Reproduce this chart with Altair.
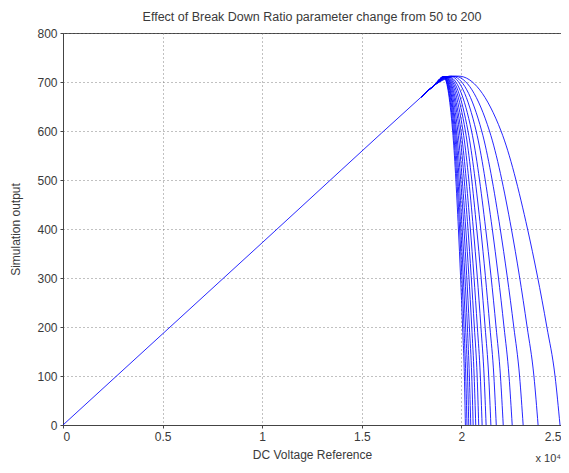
import altair as alt
import pandas as pd

# Break down ratio values (one curve each)
ratio = [50, 60, 70, 80, 90, 100, 110, 120, 130, 140, 150, 160, 170, 180, 190, 200]

# shared linear rise (x in units of 1e4)
rise_x = [0.0, 1.0, 1.80, 1.86]
rise_y = [0, 372, 670, 692]

# peak of each curve
peak_x = [1.985, 1.965, 1.952, 1.943, 1.936, 1.931, 1.927, 1.924,
          1.921, 1.919, 1.917, 1.915, 1.914, 1.912, 1.911, 1.910]
peak_y = [712, 712, 712, 712, 711, 711, 711, 711,
          711, 711, 711, 711, 711, 711, 711, 711]

# falling branch: x where each curve crosses 600, 400, 200, 100 and 0
fall_y = [600, 400, 200, 100, 0]
x_600 = [2.199, 2.141, 2.102, 2.074, 2.051, 2.033, 2.020, 2.008,
         1.998, 1.990, 1.982, 1.975, 1.970, 1.965, 1.960, 1.956]
x_400 = [2.332, 2.251, 2.195, 2.155, 2.122, 2.097, 2.077, 2.060,
         2.045, 2.033, 2.022, 2.013, 2.004, 1.997, 1.991, 1.985]
x_200 = [2.429, 2.330, 2.263, 2.214, 2.174, 2.143, 2.119, 2.098,
         2.080, 2.065, 2.052, 2.040, 2.030, 2.021, 2.013, 2.006]
x_100 = [2.470, 2.364, 2.292, 2.239, 2.196, 2.163, 2.137, 2.114,
         2.095, 2.079, 2.064, 2.052, 2.040, 2.031, 2.022, 2.015]
x_end = [2.495, 2.385, 2.31, 2.255, 2.21, 2.175, 2.148, 2.124,
         2.104, 2.087, 2.072, 2.059, 2.047, 2.037, 2.028, 2.020]

x_ticks = [0, 0.5, 1, 1.5, 2, 2.5]
y_ticks = [0, 100, 200, 300, 400, 500, 600, 700, 800]

rows = []
# the common rising segment, drawn once
for k, (a, b) in enumerate(zip(rise_x, rise_y)):
    rows.append({"ratio": 0, "k": k, "x": a, "y": b})
for i, r in enumerate(ratio):
    xs = rise_x[2:] + [peak_x[i], x_600[i], x_400[i], x_200[i], x_100[i], x_end[i]]
    ys = rise_y[2:] + [peak_y[i]] + fall_y
    for k, (a, b) in enumerate(zip(xs, ys)):
        rows.append({"ratio": r, "k": k, "x": a, "y": b})
df = pd.DataFrame(rows)

FONT = "Liberation Sans"
TXT = "#3a3a3a"
W, H = 498, 392

xscale = alt.Scale(domain=[0, 2.5], nice=False)
yscale = alt.Scale(domain=[0, 800], nice=False)

lines = alt.Chart(df).mark_line(
    interpolate="monotone", color="#0000ff", strokeWidth=0.85, clip=True
).encode(
    x=alt.X("x:Q", scale=xscale,
            axis=alt.Axis(values=x_ticks, format="~g", title="DC Voltage Reference",
                          grid=True, gridColor="#777777", gridDash=[1, 3], gridOpacity=0.9,
                          ticks=True, tickSize=3, tickColor="#444444",
                          domainColor="#444444", labelPadding=3,
                          titlePadding=7, titleFontWeight="normal")),
    y=alt.Y("y:Q", scale=yscale,
            axis=alt.Axis(values=y_ticks, title="Simulation output",
                          grid=True, gridColor="#777777", gridDash=[1, 3], gridOpacity=0.9,
                          ticks=True, tickSize=3, tickColor="#444444",
                          domainColor="#444444", labelPadding=3,
                          titlePadding=14, titleFontWeight="normal")),
    detail="ratio:N",
    order="k:Q",
)

exp = alt.Chart(pd.DataFrame({"t": ["x 10\u2074"]})).mark_text(
    align="right", baseline="bottom", fontSize=11, font=FONT, color=TXT
).encode(x=alt.datum(2.5), y=alt.value(431), text="t:N")

chart = alt.layer(lines, exp).properties(
    width=W, height=H,
    background="white",
    title=alt.TitleParams("Effect of Break Down Ratio parameter change from 50 to 200",
                          fontSize=12.5, font=FONT, color=TXT, fontWeight="normal", offset=4),
    autosize=alt.AutoSizeParams(type="none"),
    padding={"left": 55, "top": 25, "right": 0, "bottom": 40},
).configure_view(stroke="#444444", strokeWidth=1).configure_axis(
    labelFont=FONT, titleFont=FONT, labelFontSize=12, titleFontSize=12,
    labelColor=TXT, titleColor=TXT
)

chart.save("out.html", embed_options={"renderer": "svg", "actions": False})
